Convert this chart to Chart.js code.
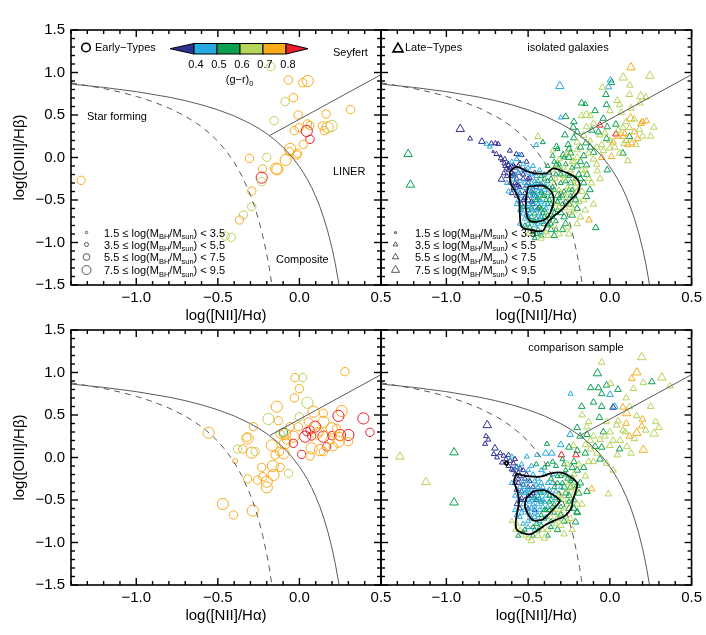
<!DOCTYPE html>
<html>
<head>
<meta charset="utf-8">
<script src="https://cdn.jsdelivr.net/npm/chart.js@4.4.0/dist/chart.umd.min.js"></script>
<style>
  html, body { margin: 0; padding: 0; background: #fff; }
  #wrap { position: relative; width: 706px; height: 635px; }
  #wrap canvas { position: absolute; left: 0; top: 0; }
</style>
</head>
<body>
<div id="wrap">
  <canvas id="pIsoEarly" width="706" height="635"></canvas>
  <canvas id="pIsoLate" width="706" height="635"></canvas>
  <canvas id="pCmpEarly" width="706" height="635"></canvas>
  <canvas id="pCmpLate" width="706" height="635"></canvas>
</div>
<script>
// ---- data ----
const xTicks = [-1.0, -0.5, 0.0, 0.5];
const yTicks = [-1.5, -1.0, -0.5, 0.0, 0.5, 1.0, 1.5];
const colorBinEdges = ['0.4', '0.5', '0.6', '0.7', '0.8'];
const massBinEdges = ['1.5', '3.5', '5.5', '7.5', '9.5'];

// demarcation lines
const kewleyX = [-1.4, -1.2, -1.0, -0.8, -0.7, -0.6, -0.5, -0.4, -0.3, -0.25, -0.2, -0.15, -0.1, -0.05, 0.0, 0.025, 0.05, 0.075, 0.1, 0.125, 0.15, 0.175, 0.2, 0.22, 0.243, 0.26];
const kewleyY = [0.864, 0.825, 0.775, 0.710, 0.669, 0.620, 0.561, 0.489, 0.398, 0.343, 0.280, 0.206, 0.120, 0.017, -0.108, -0.181, -0.262, -0.354, -0.459, -0.578, -0.716, -0.878, -1.069, -1.25, -1.5, -1.715];
const kauffX = [-1.4, -1.2, -1.1, -1.0, -0.9, -0.8, -0.7, -0.65, -0.6, -0.55, -0.5, -0.45, -0.4, -0.35, -0.3, -0.275, -0.25, -0.225, -0.2, -0.185, -0.16];
const kauffY = [0.879, 0.812, 0.770, 0.719, 0.658, 0.582, 0.487, 0.429, 0.362, 0.283, 0.191, 0.08, -0.056, -0.225, -0.443, -0.577, -0.733, -0.918, -1.14, -1.296, -1.605];
const seyfertX = [-0.18, 0.5];
const seyfertY = [0.261, 0.975];

// points: [log NII/Ha, log OIII/Hb, mass bin (1-4), colour bin (0-5)]
const isoEarly = [
  [-1.338,-0.269,3,4],[-0.175,1.069,3,3],[-0.067,0.912,3,4],[0.02,0.88,3,4],[0.051,0.9,4,4],
  [-0.088,0.657,3,3],[-0.037,0.704,3,4],[-0.155,0.433,3,3],[-0.008,0.5,3,4],[0.163,0.512,3,4],
  [0.314,0.563,3,4],[0.049,0.394,3,4],[0.065,0.375,3,4],[-0.002,0.351,3,4],[-0.031,0.316,3,4],
  [0.045,0.312,4,5],[0.065,0.214,3,5],[0.141,0.371,3,4],[0.153,0.316,3,4],[0.173,0.355,4,4],
  [0.198,0.371,4,3],[0.024,0.155,3,4],[-0.057,0.1,4,4],[-0.061,0.069,3,4],[-0.012,0.049,3,4],
  [-0.016,0.029,3,4],[-0.084,-0.029,4,4],[-0.2,0.002,3,3],[-0.306,-0.01,3,4],[-0.226,-0.135,3,4],
  [-0.143,-0.131,4,4],[-0.135,-0.139,4,4],[-0.231,-0.237,4,5],[-0.231,-0.284,3,3],[-0.292,-0.394,3,4],
  [-0.292,-0.578,3,3],[-0.343,-0.676,3,3],[-0.367,-0.735,3,4],[-0.455,-0.924,3,3],[-0.418,-0.939,3,3]
];

const cmpEarly = [
  [0.279,1.01,3,4],[-0.027,0.94,3,4],[0.02,0.94,3,3],[0.0,0.81,3,4],[-0.031,0.70,3,4],
  [0.049,0.645,4,3],[-0.139,0.598,4,4],[0.259,0.547,4,4],[0.147,0.52,3,4],[0.086,0.54,4,4],
  [-0.19,0.453,4,3],[-0.129,0.433,3,4],[0.0,0.48,3,3],[0.147,0.42,4,4],[0.239,0.49,4,5],
  [0.392,0.46,4,5],[0.432,0.296,3,5],[0.3,0.265,4,5],[0.249,0.265,4,5],[0.198,0.257,3,5],
  [0.147,0.245,4,5],[0.096,0.363,4,5],[0.065,0.324,3,5],[0.045,0.304,3,5],[0.035,0.245,4,5],
  [0.075,0.253,3,5],[0.239,0.186,4,4],[0.249,0.245,3,4],[0.228,0.343,3,4],[0.167,0.127,3,5],
  [0.014,0.037,3,5],[0.065,0.018,3,4],[0.126,0.088,4,4],[0.147,0.069,3,4],[-0.088,0.167,4,4],
  [-0.037,0.245,4,4],[-0.088,0.276,4,4],[-0.098,0.296,3,2],[-0.078,0.206,3,4],[-0.037,0.167,3,5],
  [-0.118,0.276,3,4],[-0.169,0.143,4,4],[-0.098,0.049,4,4],[-0.122,0.069,3,4],[-0.149,0.029,3,4],
  [-0.067,-0.186,3,3],[-0.163,-0.1,4,4],[-0.118,-0.116,3,4],[-0.159,-0.206,4,4],[-0.231,-0.116,3,4],
  [-0.224,-0.225,3,4],[-0.257,-0.265,3,4],[-0.2,-0.284,4,4],[-0.2,-0.351,4,4],[-0.282,0.363,3,4],
  [-0.322,0.237,3,4],[-0.318,0.225,4,4],[-0.379,0.1,3,3],[-0.347,0.1,3,4],[-0.292,0.057,4,4],
  [-0.271,0.069,3,3],[-0.394,-0.041,2,4],[-0.318,-0.253,3,4],[-0.557,0.292,4,4],[-0.469,-0.547,4,4],
  [-0.404,-0.676,3,4],[-0.286,-0.625,4,4],[0.075,0.108,4,4],[0.208,0.127,3,4],[0.106,0.284,4,4],
  [0.198,0.343,4,4],[-0.006,0.363,3,4],[0.055,0.42,3,4],[0.126,0.304,3,4],[0.188,0.206,3,4],
  [0.3,0.186,3,4],[-0.057,0.363,3,4]
];

const isoLate = [
  [-1.234,0.04,4,2],[-1.22,-0.32,4,2],
  [-0.915,0.335,4,0],[-0.855,0.222,2,0],[-0.783,0.188,3,0],[-0.755,0.16,2,1],[-0.725,0.165,2,0],
  [-0.70,0.167,2,0],[-0.683,0.159,2,0],[-0.734,0.127,2,1],[-0.714,0.07,1,0],[-0.694,0.04,2,0],
  [-0.669,0.02,1,0],[-0.643,-0.02,2,0],[-0.622,-0.06,1,0],[-0.602,-0.108,2,0],[-0.663,-0.04,1,0],
  [-0.632,-0.13,2,0],[-0.649,-0.186,2,0],[-0.663,-0.257,3,0],[-0.612,0.08,2,0],[-0.572,0.04,2,0],
  [-0.54,0.03,2,0],[-0.667,-0.01,2,0],[-0.645,-0.07,2,0],[-0.62,-0.09,2,0],[-0.555,0.03,2,1],
  [-0.45,0.147,2,1],[-0.44,0.245,3,3],[-0.41,0.18,2,2],
  [0.129,1.06,4,4],[0.245,0.96,4,3],[0.082,0.94,4,3],[-0.306,0.84,4,1],[0.004,0.91,3,1],
  [0.01,0.88,3,2],[-0.008,0.83,3,1],[-0.045,0.825,3,3],[0.122,0.85,3,3],[-0.024,0.74,3,2],
  [0.12,0.74,3,3],[0.045,0.67,3,3],[0.19,0.72,4,3],[0.22,0.71,3,3],[0.184,0.64,3,3],
  [-0.173,0.64,3,2],[-0.15,0.63,2,2],[-0.143,0.5,4,3],[-0.12,0.49,3,3],[-0.173,0.49,3,3],
  [-0.27,0.48,3,2],[-0.3,0.47,2,1],[0.127,0.46,4,4],[0.224,0.43,3,4],[0.19,0.40,3,4],
  [0.27,0.355,3,3],[-0.061,0.38,3,5],[0.037,0.276,3,5],[-0.016,0.36,3,2],[0.037,0.39,3,2],
  [0.1,0.42,3,3],[-0.224,0.355,3,2],[-0.143,0.36,3,3],[-0.061,0.265,3,3],[-0.03,0.29,3,3],
  [0.08,0.245,3,4],[0.12,0.245,3,2],[0.16,0.15,3,3],[0.135,0.17,3,4],[0.086,0.16,3,3],
  [0.11,0.15,3,4],[0.02,0.18,3,4],[0.0,0.11,3,3],[0.08,0.05,3,2],[0.11,-0.04,3,3],
  [-0.016,-0.147,3,2],[-0.077,-0.16,3,3],[-0.127,-0.735,3,4],[-0.086,-0.826,3,2],[-0.112,-0.3,3,3],
  [-0.122,-0.38,3,2],[-0.143,-0.46,3,2],[-0.326,0.127,3,2],[-0.275,0.265,3,2],[-0.22,0.23,3,2],
  [-0.255,0.15,3,2],[-0.286,0.03,3,2],[-0.2,0.09,3,3],[-0.147,0.17,3,2],[-0.1,0.06,3,2],
  [-0.1,-0.02,3,3],[-0.05,0.0,3,4],[-0.143,-0.088,3,2],[-0.23,-0.05,3,3],[-0.326,-0.09,3,2],
  [-0.16,0.02,3,2],[-0.08,0.12,3,3],[0.01,0.01,3,4],[-0.12,0.2,2,3],[0.06,0.05,3,3],
  [0.0,0.2,3,3],[0.05,0.32,3,3],[0.15,0.3,3,4],[0.2,0.25,3,3],[0.17,0.22,3,4],
  [0.25,0.25,3,3],[0.08,0.35,3,3],[0.09,0.28,3,4],[-0.04,0.46,3,2],[0.0,0.55,3,3],
  [0.07,0.53,3,3],[0.13,0.58,3,3],[-0.09,0.55,3,2],[-0.2,0.3,3,2],[-0.16,0.26,3,3],
  [-0.11,0.32,3,2],[-0.05,0.15,3,3],
  [-0.18,0.12,3,2],[-0.13,0.05,3,3],[-0.08,-0.08,3,3],[-0.04,0.08,3,3],[-0.02,0.22,3,2],
  [0.03,0.12,3,3],[0.05,0.25,3,4],[0.12,0.35,3,3],[0.2,0.42,3,4],[0.15,0.45,3,3],
  [-0.1,0.4,3,3],[-0.07,0.3,3,2],[-0.2,0.18,3,3],[-0.25,0.1,3,2],[-0.35,0.08,2,3],
  [-0.22,0.42,3,2],[-0.12,0.12,3,2],[0.06,0.62,3,3],[-0.02,0.62,3,2],[0.1,0.2,3,3],
  [0.18,0.33,3,3],[-0.06,-0.25,3,3],[-0.1,-0.55,3,3],
  // main cloud
  [-0.62,-0.15,2,0],[-0.6,-0.22,2,0],[-0.58,-0.3,2,0],[-0.56,-0.18,2,0],[-0.55,-0.35,2,0],
  [-0.53,-0.25,2,0],[-0.52,-0.42,2,0],[-0.5,-0.5,3,0],[-0.48,-0.4,2,0],[-0.57,-0.45,2,0],
  [-0.61,-0.3,2,0],[-0.54,-0.55,2,0],[-0.59,-0.08,1,0],[-0.55,-0.05,1,0],[-0.5,-0.3,2,0],
  [-0.47,-0.55,2,0],[-0.45,-0.35,2,0],[-0.63,-0.22,2,0],[-0.58,-0.12,2,0],[-0.52,-0.15,2,0],
  [-0.46,-0.45,3,0],[-0.5,-0.62,2,0],[-0.44,-0.6,2,0],
  [-0.64,-0.1,2,0],[-0.6,-0.18,2,0],[-0.57,-0.25,2,0],[-0.59,-0.36,2,0],[-0.56,-0.1,2,0],
  [-0.53,-0.2,2,0],[-0.51,-0.05,2,0],[-0.6,-0.42,2,0],[-0.55,-0.42,2,0],[-0.51,-0.33,2,0],
  [-0.49,-0.24,2,0],[-0.46,-0.18,2,0],[-0.53,-0.5,2,0],[-0.48,-0.52,2,0],[-0.42,-0.32,2,0],
  [-0.6,-0.05,2,1],[-0.57,-0.02,2,1],[-0.53,-0.08,2,1],[-0.5,-0.12,2,1],[-0.48,-0.2,2,1],
  [-0.55,-0.28,2,1],[-0.52,-0.36,2,1],[-0.49,-0.45,2,1],[-0.47,-0.52,2,1],[-0.45,-0.62,2,1],
  [-0.43,-0.5,2,1],[-0.42,-0.7,2,1],[-0.48,-0.7,2,1],[-0.51,-0.58,2,1],[-0.46,-0.28,2,1],
  [-0.44,-0.4,2,1],[-0.41,-0.3,2,1],[-0.4,-0.55,2,1],[-0.56,-0.5,2,1],[-0.53,-0.66,2,1],
  [-0.5,-0.78,2,1],[-0.44,-0.78,2,1],[-0.58,-0.38,2,1],[-0.62,-0.4,2,1],[-0.47,-0.1,2,1],
  [-0.43,-0.15,2,1],[-0.38,-0.42,2,1],[-0.42,-0.88,2,1],
  [-0.63,-0.3,2,1],[-0.59,-0.26,2,1],[-0.56,-0.4,2,1],[-0.54,-0.6,2,1],[-0.52,-0.72,2,1],
  [-0.49,-0.66,2,1],[-0.47,-0.38,2,1],[-0.45,-0.45,2,1],[-0.43,-0.66,2,1],[-0.41,-0.76,2,1],
  [-0.46,-0.8,2,1],[-0.4,-0.38,2,1],[-0.38,-0.55,2,1],[-0.5,-0.18,2,1],[-0.45,-0.22,2,1],
  [-0.4,-0.2,2,1],[-0.37,-0.35,2,1],[-0.55,-0.15,2,1],[-0.5,-0.4,2,1],[-0.48,-0.3,2,1],
  [-0.44,-0.55,2,1],[-0.42,-0.42,2,1],[-0.57,-0.55,2,1],[-0.55,-0.78,2,1],
  [-0.45,-0.5,2,2],[-0.43,-0.58,2,2],[-0.41,-0.45,2,2],[-0.39,-0.35,2,2],[-0.37,-0.5,2,2],
  [-0.35,-0.6,2,2],[-0.38,-0.68,2,2],[-0.4,-0.78,3,2],[-0.44,-0.85,2,2],[-0.47,-0.88,2,2],
  [-0.36,-0.25,2,2],[-0.33,-0.2,2,2],[-0.3,-0.3,2,2],[-0.28,-0.4,2,2],[-0.32,-0.45,3,2],
  [-0.3,-0.15,2,2],[-0.27,-0.08,2,2],[-0.34,-0.05,2,2],[-0.38,-0.1,2,2],[-0.42,-0.22,2,2],
  [-0.26,-0.2,2,2],[-0.24,-0.3,3,2],[-0.22,-0.45,3,2],[-0.25,-0.55,3,2],[-0.3,-0.65,3,2],
  [-0.33,-0.75,2,2],[-0.36,-0.85,3,2],[-0.28,-0.7,3,2],[-0.2,-0.6,3,2],[-0.46,-0.66,2,2],
  [-0.48,-0.6,2,2],[-0.4,-0.62,2,2],[-0.35,0.02,2,2],[-0.32,0.1,2,2],[-0.25,-0.0,3,2],
  [-0.2,-0.1,3,2],[-0.18,-0.25,3,2],[-0.29,-0.85,3,2],
  [-0.48,-0.75,2,2],[-0.45,-0.72,2,2],[-0.42,-0.6,2,2],[-0.39,-0.5,2,2],[-0.36,-0.55,2,2],
  [-0.34,-0.38,2,2],[-0.31,-0.48,2,2],[-0.29,-0.55,2,2],[-0.27,-0.28,2,2],[-0.25,-0.38,2,2],
  [-0.23,-0.12,2,2],[-0.21,-0.25,2,2],[-0.24,-0.45,2,2],[-0.32,-0.62,2,2],[-0.35,-0.7,2,2],
  [-0.38,-0.8,2,2],[-0.42,-0.92,2,2],[-0.34,-0.92,3,2],[-0.27,-0.78,3,2],[-0.23,-0.68,3,2],
  [-0.4,-0.25,2,2],[-0.37,-0.18,2,2],[-0.31,-0.08,2,2],[-0.28,0.0,2,2],[-0.24,0.05,3,2],
  [-0.18,-0.05,3,2],[-0.16,-0.3,3,2],[-0.14,-0.2,3,2],[-0.44,-0.28,2,2],[-0.42,-0.4,2,2],
  [-0.47,-0.42,2,2],[-0.5,-0.7,2,2],[-0.52,-0.8,2,2],[-0.46,-0.95,2,2],[-0.4,-0.7,2,2],
  [-0.33,-0.85,2,2],
  [-0.34,-0.3,2,3],[-0.31,-0.38,2,3],[-0.29,-0.22,2,3],[-0.26,-0.35,2,3],[-0.23,-0.2,2,3],
  [-0.21,-0.35,3,3],[-0.19,-0.52,3,3],[-0.24,-0.65,3,3],[-0.27,-0.6,2,3],[-0.33,-0.55,2,3],
  [-0.36,-0.4,2,3],[-0.17,-0.4,3,3],[-0.15,-0.15,3,3],[-0.22,-0.05,3,3],[-0.31,-0.02,2,3],
  [-0.35,-0.15,2,3],[-0.2,-0.78,3,3],[-0.26,-0.82,3,3],[-0.31,-0.9,3,3],[-0.38,-0.92,3,3],
  [-0.15,-0.62,3,3],
  [-0.3,-0.42,2,3],[-0.27,-0.48,2,3],[-0.24,-0.55,3,3],[-0.22,-0.62,3,3],[-0.18,-0.7,3,3],
  [-0.2,-0.3,3,3],[-0.17,-0.15,3,3],[-0.13,-0.25,3,3],[-0.28,-0.12,2,3],[-0.33,-0.12,2,3],
  [-0.26,0.05,3,3],[-0.2,0.0,3,3],[-0.34,-0.8,3,3],[-0.42,-0.95,3,3],[-0.5,-0.9,2,3],
  [-0.25,-0.9,3,3],[-0.16,-0.5,3,3],
  [-0.58,-0.2,2,1],[-0.56,-0.33,2,0],[-0.54,-0.45,2,1],[-0.53,-0.58,2,2],[-0.52,-0.3,2,1],
  [-0.5,-0.25,2,0],[-0.5,-0.55,2,1],[-0.49,-0.35,2,1],[-0.47,-0.62,2,1],[-0.46,-0.75,2,2],
  [-0.45,-0.3,2,1],[-0.44,-0.48,2,2],[-0.43,-0.36,2,1],[-0.42,-0.52,2,1],[-0.41,-0.65,2,2],
  [-0.4,-0.45,2,2],[-0.39,-0.6,2,1],[-0.38,-0.28,2,2],[-0.37,-0.72,2,2],[-0.36,-0.45,2,2],
  [-0.35,-0.35,2,2],[-0.34,-0.65,2,2],[-0.33,-0.25,2,3],[-0.32,-0.52,2,2],[-0.31,-0.58,2,3],
  [-0.3,-0.2,2,2],[-0.29,-0.45,2,2],[-0.28,-0.25,2,3],[-0.27,-0.52,2,2],[-0.26,-0.42,2,3],
  [-0.25,-0.22,2,2],[-0.24,-0.15,2,3],[-0.23,-0.38,2,2],[-0.22,-0.28,2,3],[-0.21,-0.5,3,2],
  [-0.2,-0.4,3,3],[-0.19,-0.2,3,2],[-0.52,-0.48,2,0],[-0.55,-0.62,2,1],[-0.57,-0.32,2,0],
  [-0.59,-0.2,2,0],[-0.61,-0.12,2,0],[-0.49,-0.82,2,2],[-0.45,-0.9,2,2],[-0.39,-0.88,2,3],
  [-0.36,-0.78,2,2],[-0.43,-0.72,2,1],[-0.47,-0.45,2,1],[-0.51,-0.68,2,1],[-0.48,-0.58,2,1]
];

const cmpLate = [
  [-1.284,0.01,4,3],[-1.125,-0.29,4,3],[-0.953,0.06,4,2],[-0.953,-0.53,4,2],[-0.75,0.38,4,0],
  [-0.757,0.25,2,0],[-0.743,0.21,2,0],[-0.763,0.16,2,0],[-0.703,0.11,3,0],[-0.67,0.05,2,0],
  [-0.65,0.02,2,0],[-0.635,-0.02,2,0],[-0.61,-0.04,2,0],[-0.59,-0.07,2,0],[-0.57,-0.11,2,0],
  [-0.55,-0.13,2,0],[-0.69,0.0,2,0],[-0.66,-0.06,2,0],[-0.62,0.03,2,0],[-0.6,0.01,2,1],
  [-0.58,-0.02,2,0],[-0.71,0.04,2,0],[-0.6,-0.14,2,0],[-0.508,0.01,2,1],[-0.446,0.03,2,1],
  [-0.24,0.75,2,1],[0.195,1.18,4,3],[-0.05,1.12,3,3],[-0.076,0.99,4,2],[-0.117,0.82,3,2],
  [-0.07,0.82,3,2],[-0.02,0.85,3,2],[0.005,0.87,3,3],[-0.05,0.75,3,2],[0.001,0.74,3,1],
  [-0.172,0.6,3,2],[0.02,0.59,3,0],[0.03,0.6,3,1],[-0.064,0.47,3,2],[0.08,0.59,3,4],
  [0.165,1.0,4,4],[0.134,0.93,3,4],[0.205,0.88,3,3],[0.257,0.89,3,2],[0.318,0.94,4,3],
  [0.369,0.84,3,3],[0.144,0.81,3,3],[0.103,0.52,4,4],[0.12,0.6,3,3],[0.164,0.49,3,3],
  [0.195,0.37,3,4],[0.165,0.29,4,4],[0.271,0.28,4,3],[0.205,0.09,4,4],[0.094,0.3,3,3],
  [0.042,0.38,3,3],[0.001,0.3,3,3],[0.063,0.2,3,3],[0.104,0.13,3,3],[0.046,0.03,3,3],
  [-0.02,-0.07,3,3],[-0.06,-0.02,3,2],[-0.111,-0.37,3,4],[-0.009,-0.43,3,3],[-0.141,0.36,3,3],
  [-0.182,0.25,3,2],[-0.243,0.27,3,1],[-0.222,0.14,3,3],[-0.296,0.03,3,5],[-0.207,0.03,3,5],
  [-0.385,0.16,2,2],[-0.392,0.05,3,1],[-0.355,0.05,3,1],[-0.15,0.05,3,2],[-0.09,0.13,3,2],
  [-0.1,0.25,3,3],[-0.06,0.21,3,3],[-0.17,0.5,3,3],[-0.14,0.27,3,2],[-0.2,-0.33,3,2],
  [-0.2,-0.64,3,2],[-0.21,-0.76,3,2],[-0.26,-0.74,3,3],[-0.3,-0.66,3,3],[-0.05,0.6,3,2],
  [0.05,0.43,3,3],[0.1,0.4,3,4],[0.0,0.14,3,3],[-0.04,0.3,3,2],[0.15,0.22,3,3],
  [0.06,0.1,3,2],[-0.12,0.1,3,3],[-0.02,0.42,3,3],[0.22,0.32,3,3],[0.28,0.42,3,3],
  [-0.12,0.2,3,3],[-0.08,0.05,3,3],[-0.05,0.12,3,2],[-0.15,0.15,3,3],[-0.2,0.08,3,2],
  [-0.25,0.12,3,2],[-0.3,0.15,3,1],[-0.03,0.25,3,3],[0.02,0.2,3,3],[0.08,0.32,3,3],
  [0.12,0.25,3,4],[0.2,0.45,3,4],[0.25,0.6,3,3],[0.1,0.7,3,3],[0.05,0.8,3,2],
  [-0.1,0.65,3,2],[-0.13,0.42,3,3],[-0.2,0.35,3,2],[0.13,0.05,3,3],[0.02,-0.15,3,3],
  [-0.1,-0.05,3,3],[0.3,0.35,3,3],
  // main cloud
  [-0.58,-0.2,2,0],[-0.56,-0.3,2,0],[-0.54,-0.4,2,0],[-0.52,-0.5,2,0],[-0.5,-0.6,2,0],
  [-0.55,-0.22,2,0],[-0.53,-0.15,2,0],[-0.5,-0.35,2,0],[-0.48,-0.45,2,0],[-0.57,-0.55,2,0],
  [-0.46,-0.62,2,0],[-0.52,-0.25,2,0],
  [-0.62,-0.1,2,0],[-0.59,-0.15,2,0],[-0.56,-0.25,2,0],[-0.57,-0.38,2,0],[-0.54,-0.48,2,0],
  [-0.51,-0.2,2,0],[-0.49,-0.28,2,0],[-0.55,-0.6,2,0],[-0.5,-0.45,2,0],[-0.47,-0.35,2,0],
  [-0.53,-0.32,2,0],[-0.45,-0.5,2,0],
  [-0.57,-0.12,2,1],[-0.54,-0.08,2,1],[-0.5,-0.15,2,1],[-0.47,-0.2,2,1],[-0.44,-0.25,2,1],
  [-0.55,-0.35,2,1],[-0.52,-0.42,2,1],[-0.5,-0.5,2,1],[-0.47,-0.55,2,1],[-0.45,-0.4,2,1],
  [-0.43,-0.48,2,1],[-0.41,-0.58,2,1],[-0.44,-0.68,2,1],[-0.48,-0.72,2,1],[-0.52,-0.62,2,1],
  [-0.55,-0.7,2,1],[-0.4,-0.4,2,1],[-0.38,-0.3,2,1],[-0.42,-0.15,2,1],[-0.36,-0.5,2,1],
  [-0.5,-0.82,2,1],[-0.46,-0.85,2,1],[-0.39,-0.7,2,1],[-0.33,-0.4,2,1],[-0.35,-0.2,2,1],
  [-0.58,-0.45,2,1],
  [-0.6,-0.3,2,1],[-0.58,-0.62,2,1],[-0.56,-0.5,2,1],[-0.53,-0.55,2,1],[-0.5,-0.65,2,1],
  [-0.48,-0.6,2,1],[-0.46,-0.7,2,1],[-0.43,-0.62,2,1],[-0.41,-0.5,2,1],[-0.39,-0.45,2,1],
  [-0.44,-0.35,2,1],[-0.46,-0.28,2,1],[-0.42,-0.3,2,1],[-0.37,-0.38,2,1],[-0.35,-0.3,2,1],
  [-0.48,-0.1,2,1],[-0.4,-0.2,2,1],[-0.53,-0.78,2,1],[-0.5,-0.75,2,1],[-0.43,-0.75,2,1],
  [-0.38,-0.58,2,1],[-0.35,-0.45,2,1],[-0.3,-0.35,2,1],[-0.52,-0.35,2,1],[-0.49,-0.52,2,1],
  [-0.44,-0.45,2,1],
  [-0.46,-0.48,2,2],[-0.42,-0.52,2,2],[-0.4,-0.62,2,2],[-0.37,-0.45,2,2],[-0.34,-0.55,2,2],
  [-0.32,-0.3,2,2],[-0.3,-0.22,2,2],[-0.28,-0.35,3,2],[-0.25,-0.45,3,2],[-0.27,-0.15,2,2],
  [-0.23,-0.25,3,2],[-0.33,-0.1,2,2],[-0.36,-0.75,2,2],[-0.42,-0.8,2,2],[-0.47,-0.92,2,2],
  [-0.53,-0.88,2,2],[-0.3,-0.68,3,2],[-0.25,-0.6,3,2],[-0.22,-0.05,3,2],[-0.29,-0.02,2,2],
  [-0.38,-0.08,2,2],[-0.45,-0.08,2,2],[-0.2,-0.15,3,2],[-0.19,-0.42,3,2],
  [-0.4,-0.72,2,2],[-0.37,-0.62,2,2],[-0.33,-0.48,2,2],[-0.3,-0.58,2,2],[-0.27,-0.42,3,2],
  [-0.24,-0.35,3,2],[-0.26,-0.25,2,2],[-0.23,-0.12,3,2],[-0.28,-0.08,2,2],[-0.35,-0.05,2,2],
  [-0.4,-0.12,2,2],[-0.32,-0.85,3,2],[-0.38,-0.92,2,2],[-0.44,-0.86,2,2],[-0.56,-0.92,2,2],
  [-0.28,-0.75,3,2],[-0.22,-0.5,3,2],[-0.2,-0.65,3,2],[-0.18,-0.3,3,2],[-0.16,-0.12,3,2],
  [-0.14,-0.4,3,2],[-0.34,-0.65,2,2],[-0.42,-0.42,2,2],
  [-0.35,-0.62,2,3],[-0.32,-0.72,3,3],[-0.38,-0.85,3,3],[-0.44,-0.92,3,3],[-0.5,-0.95,2,3],
  [-0.55,-0.85,2,3],[-0.28,-0.5,2,3],[-0.25,-0.3,3,3],[-0.22,-0.35,3,3],[-0.2,-0.55,3,3],
  [-0.31,-0.42,2,3],[-0.26,-0.08,3,3],[-0.3,-0.8,3,3],[-0.57,-0.78,2,3],[-0.24,-0.72,3,3],
  [-0.36,-0.7,2,3],[-0.33,-0.78,2,3],[-0.4,-0.95,3,3],[-0.48,-0.98,3,3],[-0.52,-0.92,2,3],
  [-0.26,-0.55,3,3],[-0.22,-0.2,3,3],[-0.19,-0.08,3,3],[-0.15,-0.22,3,3],[-0.17,-0.55,3,3],
  [-0.23,-0.85,3,3],[-0.28,-0.9,3,3],[-0.6,-0.75,2,3],[-0.58,-0.85,2,3],[-0.13,-0.05,3,3],
  [-0.56,-0.18,2,0],[-0.55,-0.42,2,1],[-0.54,-0.65,2,1],[-0.53,-0.28,2,1],[-0.51,-0.4,2,1],
  [-0.51,-0.58,2,1],[-0.5,-0.28,2,1],[-0.49,-0.68,2,1],[-0.48,-0.38,2,1],[-0.47,-0.48,2,1],
  [-0.46,-0.58,2,1],[-0.45,-0.78,2,2],[-0.45,-0.32,2,1],[-0.44,-0.55,2,1],[-0.43,-0.4,2,1],
  [-0.42,-0.68,2,2],[-0.41,-0.35,2,1],[-0.4,-0.52,2,1],[-0.39,-0.62,2,2],[-0.38,-0.4,2,1],
  [-0.37,-0.52,2,2],[-0.36,-0.25,2,2],[-0.35,-0.58,2,2],[-0.34,-0.35,2,2],[-0.33,-0.62,2,3],
  [-0.32,-0.22,2,2],[-0.31,-0.5,2,2],[-0.3,-0.45,2,3],[-0.29,-0.3,2,2],[-0.28,-0.6,2,3],
  [-0.27,-0.2,2,2],[-0.26,-0.38,2,3],[-0.25,-0.52,2,2],[-0.24,-0.28,2,2],[-0.23,-0.45,2,3],
  [-0.22,-0.6,3,2],[-0.21,-0.38,3,3],[-0.55,-0.5,2,0],[-0.58,-0.3,2,0],[-0.57,-0.68,2,1],
  [-0.52,-0.85,2,2],[-0.47,-0.82,2,2],[-0.41,-0.85,2,3],[-0.36,-0.82,2,2],[-0.46,-0.65,2,1],
  [-0.5,-0.38,2,1],[-0.43,-0.5,2,1],[-0.47,-0.42,2,0]
];

// density contours
const isoOuter = [[-0.612,-0.167],[-0.571,-0.108],[-0.5,-0.167],[-0.459,-0.186],[-0.387,-0.186],[-0.347,-0.127],[-0.265,-0.178],[-0.204,-0.245],[-0.184,-0.324],[-0.198,-0.414],[-0.245,-0.508],[-0.296,-0.618],[-0.347,-0.696],[-0.387,-0.782],[-0.408,-0.861],[-0.469,-0.861],[-0.54,-0.814],[-0.551,-0.657],[-0.555,-0.5],[-0.581,-0.39],[-0.608,-0.304]];
const isoInner = [[-0.5,-0.343],[-0.408,-0.331],[-0.357,-0.402],[-0.343,-0.5],[-0.357,-0.618],[-0.387,-0.716],[-0.439,-0.755],[-0.49,-0.743],[-0.51,-0.657],[-0.514,-0.5]];
const cmpOuter = [[-0.571,-0.19],[-0.51,-0.218],[-0.428,-0.226],[-0.367,-0.19],[-0.296,-0.178],[-0.234,-0.237],[-0.2,-0.308],[-0.214,-0.433],[-0.228,-0.512],[-0.234,-0.59],[-0.275,-0.688],[-0.337,-0.739],[-0.387,-0.786],[-0.449,-0.865],[-0.49,-0.904],[-0.54,-0.884],[-0.571,-0.845],[-0.575,-0.747],[-0.561,-0.59],[-0.555,-0.512],[-0.567,-0.394],[-0.586,-0.276]];
const cmpInner = [[-0.51,-0.473],[-0.469,-0.402],[-0.398,-0.386],[-0.337,-0.453],[-0.306,-0.512],[-0.347,-0.61],[-0.408,-0.727],[-0.469,-0.739],[-0.5,-0.668],[-0.52,-0.571]];
const cmpSmall = [[-0.62,-0.068],[-0.632,-0.046],[-0.644,-0.068],[-0.632,-0.09]];

// ---- styling ----
const FONT = '"Liberation Sans", Arial, Helvetica, sans-serif';
const font = px => px + 'px ' + FONT;
const binColors = ['#2e3192', '#27aae1', '#0aa04f', '#b5d45a', '#f9ab1c', '#ec1c2a'];
const circR = [0, 1.5, 2.5, 4.2, 5.6];
const triR = [0, 1.6, 2.9, 3.8, 4.9];
const fmt = v => Number(v).toFixed(1).replace('-', '\u2212');

Chart.defaults.font.family = FONT;
Chart.defaults.color = '#000';

function xy(xs, ys) { return xs.map((v, i) => ({ x: v, y: ys[i] })); }

function curveSet(xs, ys, dash) {
  return { data: xy(xs, ys), showLine: true, borderColor: '#5a5a5a', borderWidth: 1,
    borderDash: dash || [], pointRadius: 0, fill: false, tension: 0 };
}
function contourSet(pts) {
  const d = pts.map(p => ({ x: p[0], y: p[1] }));
  d.push(d[0]);
  return { data: d, showLine: true, borderColor: '#000', borderWidth: 1.8, pointRadius: 0, fill: false, tension: 0.25 };
}
function pointSet(pts, style, radii) {
  return { data: pts.map(p => ({ x: p[0], y: p[1] })), showLine: false, pointStyle: style,
    pointRadius: pts.map(p => radii[p[2]]), pointBorderColor: pts.map(p => binColors[p[3]]),
    pointBackgroundColor: 'rgba(0,0,0,0)', pointBorderWidth: 1 };
}

function tri(ctx, x, y, r) {
  ctx.beginPath();
  ctx.moveTo(x, y - r);
  ctx.lineTo(x + r * 0.866, y + r * 0.5);
  ctx.lineTo(x - r * 0.866, y + r * 0.5);
  ctx.closePath();
  ctx.stroke();
}
function runs(ctx, x, y, parts, size) {
  ctx.textAlign = 'left';
  ctx.textBaseline = 'alphabetic';
  for (const [t, sub] of parts) {
    ctx.font = font(sub ? size * 0.68 : size);
    ctx.fillText(t, x, y + (sub ? size * 0.25 : 0));
    x += ctx.measureText(t).width;
  }
  return x;
}
function massLegend(ctx, symX, txtX, symbol) {
  const rows = [232.5, 244.5, 257, 270];
  ctx.strokeStyle = '#444';
  ctx.lineWidth = 0.9;
  rows.forEach((ry, i) => {
    if (symbol === 'circle') {
      ctx.beginPath(); ctx.arc(symX, ry, circR[i + 1] * 0.8, 0, Math.PI * 2); ctx.stroke();
    } else {
      tri(ctx, symX, ry, triR[i + 1] * 0.95);
    }
    ctx.fillStyle = '#000';
    runs(ctx, txtX, ry + 4, [[massBinEdges[i] + ' \u2264 log(M'], ['BH', 1], ['/M'], ['sun', 1], [') < ' + massBinEdges[i + 1]]], 11);
  });
}
function colorBar(ctx) {
  const top = 43.5, bot = 54, mid = 48.7;
  const edges = [194, 217, 240, 263, 286];
  ctx.lineWidth = 1;
  ctx.strokeStyle = '#000';
  ctx.fillStyle = binColors[0];
  ctx.beginPath(); ctx.moveTo(170, mid); ctx.lineTo(edges[0], top); ctx.lineTo(edges[0], bot); ctx.closePath(); ctx.fill(); ctx.stroke();
  for (let i = 0; i < 4; i++) {
    ctx.fillStyle = binColors[i + 1];
    ctx.fillRect(edges[i], top, edges[i + 1] - edges[i], bot - top);
    ctx.strokeRect(edges[i], top, edges[i + 1] - edges[i], bot - top);
  }
  ctx.fillStyle = binColors[5];
  ctx.beginPath(); ctx.moveTo(308, mid); ctx.lineTo(edges[4], top); ctx.lineTo(edges[4], bot); ctx.closePath(); ctx.fill(); ctx.stroke();
  ctx.fillStyle = '#000';
  ctx.font = font(11);
  ctx.textAlign = 'center';
  ctx.textBaseline = 'middle';
  colorBinEdges.forEach((t, i) => ctx.fillText(t, edges[i] + 2, 65));
  ctx.font = font(11);
  const w = ctx.measureText('(g\u2212r)').width + 5;
  runs(ctx, 240 - w / 2, 83, [['(g\u2212r)'], ['0', 1]], 11);
}

// frame and inward IDL-style ticks, placed through the chart's own scales
const frame = {
  id: 'frame',
  afterDatasetsDraw(chart) {
    const { ctx, chartArea: a } = chart;
    const xs = chart.scales.x, ys = chart.scales.y;
    ctx.save();
    ctx.fillStyle = '#000';
    for (let i = -14; i <= 5; i++) {
      const px = xs.getPixelForValue(i / 10);
      const len = i % 5 === 0 ? 7 : 4;
      ctx.fillRect(px - 0.7, a.bottom - len, 1.4, len);
      ctx.fillRect(px - 0.7, a.top, 1.4, len);
    }
    for (let i = -15; i <= 15; i++) {
      const py = ys.getPixelForValue(i / 10);
      const len = i % 5 === 0 ? 7 : 4;
      ctx.fillRect(a.left, py - 0.7, len, 1.4);
      ctx.fillRect(a.right - len, py - 0.7, len, 1.4);
    }
    ctx.lineWidth = 1.6;
    ctx.strokeStyle = '#000';
    ctx.strokeRect(a.left, a.top, a.right - a.left, a.bottom - a.top);
    ctx.restore();
  }
};

const deco = {
  id: 'deco',
  afterDraw(chart, args, opts) {
    const { ctx } = chart;
    ctx.save();
    ctx.fillStyle = '#000';
    ctx.font = font(11);
    ctx.textBaseline = 'middle';
    ctx.textAlign = 'left';
    if (opts.kind === 'isoEarly') {
      ctx.fillText('Star forming', 87, 117);
      ctx.fillText('Seyfert', 333, 52.5);
      ctx.fillText('LINER', 333, 172);
      ctx.fillText('Composite', 276, 260);
      ctx.lineWidth = 1.6;
      ctx.strokeStyle = '#000';
      ctx.beginPath(); ctx.arc(86, 47.5, 4.3, 0, Math.PI * 2); ctx.stroke();
      ctx.fillText('Early\u2212Types', 95, 48);
      colorBar(ctx);
      massLegend(ctx, 86.5, 104, 'circle');
    } else if (opts.kind === 'isoLate') {
      ctx.lineWidth = 1.6;
      ctx.strokeStyle = '#000';
      tri(ctx, 398, 49, 5.8);
      ctx.fillText('Late\u2212Types', 405, 48);
      ctx.textAlign = 'center';
      ctx.fillText('isolated galaxies', 568, 48);
      massLegend(ctx, 395.5, 415, 'triangle');
    } else if (opts.kind === 'cmpLate') {
      ctx.textAlign = 'center';
      ctx.fillText('comparison sample', 576, 348);
    }
    ctx.restore();
  }
};

function makePanel(id, box, yLabels, kind, datasets) {
  const yW = yLabels ? box.l : 0;
  const xH = 40;
  return new Chart(document.getElementById(id), {
    type: 'scatter',
    data: { datasets: datasets },
    options: {
      responsive: false,
      animation: false,
      devicePixelRatio: 1,
      events: [],
      layout: { padding: { left: box.l - yW, top: box.t, right: 706 - box.r, bottom: 635 - box.b - xH } },
      plugins: { legend: { display: false }, tooltip: { enabled: false }, deco: { kind: kind } },
      scales: {
        x: {
          type: 'linear', position: 'bottom', min: -1.4, max: 0.5,
          grid: { display: false, drawTicks: false, tickLength: 0 }, border: { display: false },
          ticks: { padding: 4, font: { size: 15 }, color: '#000', maxRotation: 0, autoSkip: false,
                   callback: v => fmt(v) },
          afterBuildTicks: s => { s.ticks = xTicks.map(v => ({ value: v })); },
          afterFit: s => { s.height = xH; },
          title: { display: true, text: 'log([NII]/H\u03b1)', font: { size: 15 }, color: '#000', padding: 0 }
        },
        y: {
          type: 'linear', position: 'left', min: -1.5, max: 1.5,
          grid: { display: false, drawTicks: false, tickLength: 0 }, border: { display: false },
          ticks: { display: yLabels, padding: 6, font: { size: 15 }, color: '#000', callback: v => fmt(v) },
          afterBuildTicks: s => { s.ticks = yTicks.map(v => ({ value: v })); },
          afterFit: s => { s.width = yW; },
          title: { display: yLabels, text: 'log([OIII]/H\u03b2)', font: { size: 15 }, color: '#000',
                   padding: { top: 11, bottom: 0 } }
        }
      }
    },
    plugins: [frame, deco]
  });
}

function lines() {
  return [curveSet(kewleyX, kewleyY), curveSet(kauffX, kauffY, [6, 5]), curveSet(seyfertX, seyfertY)];
}

makePanel('pIsoEarly', { l: 71, t: 30, r: 381, b: 285 }, true, 'isoEarly',
  [...lines(), pointSet(isoEarly, 'circle', circR)]);
makePanel('pIsoLate', { l: 381, t: 30, r: 693, b: 285 }, false, 'isoLate',
  [contourSet(isoOuter), contourSet(isoInner), ...lines(), pointSet(isoLate, 'triangle', triR)]);
makePanel('pCmpEarly', { l: 71, t: 330, r: 381, b: 585 }, true, 'cmpEarly',
  [...lines(), pointSet(cmpEarly, 'circle', circR)]);
makePanel('pCmpLate', { l: 381, t: 330, r: 693, b: 585 }, false, 'cmpLate',
  [contourSet(cmpOuter), contourSet(cmpInner), contourSet(cmpSmall), ...lines(), pointSet(cmpLate, 'triangle', triR)]);
</script>
</body>
</html>
